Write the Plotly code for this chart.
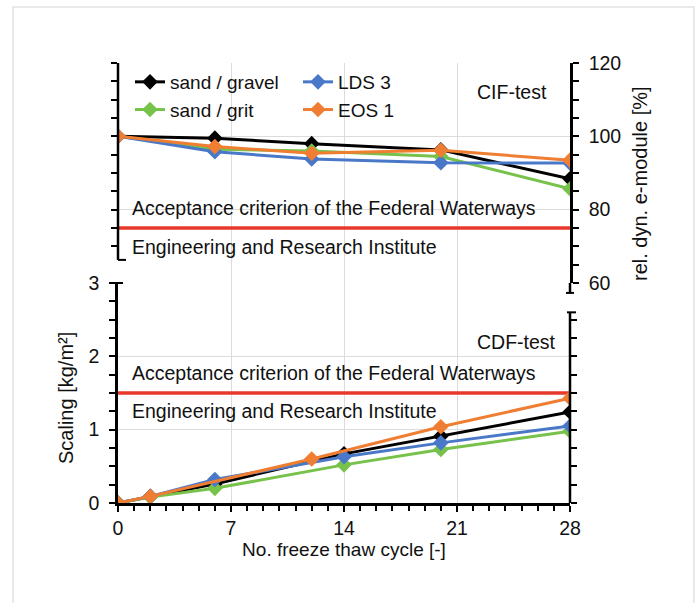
import plotly.graph_objects as go

# CIF test: relative dynamic e-modulus [%]
cif_cycles = [0, 6, 12, 20, 28]
cif_sand_gravel = [100, 99.5, 98.0, 96.3, 88.4]
cif_sand_grit = [100, 96.5, 96.0, 94.5, 85.7]
cif_lds3 = [100, 95.8, 93.8, 92.8, 92.7]
cif_eos1 = [100, 97.2, 95.4, 96.2, 93.5]

# CDF test: scaling [kg/m²]
cdf_cycles = [0, 2, 6, 14, 20, 28]
cdf_sand_gravel = [0, 0.09, 0.26, 0.67, 0.91, 1.24]
cdf_sand_grit = [0, 0.08, 0.20, 0.52, 0.73, 0.98]
cdf_lds3 = [0, 0.09, 0.32, 0.63, 0.82, 1.05]
cdf_eos1_cycles = [0, 2, 12, 20, 28]
cdf_eos1 = [0, 0.09, 0.60, 1.04, 1.43]

# acceptance criteria of the Federal Waterways Engineering and Research Institute
cif_limit = 75
cdf_limit = 1.5
limit_span = [0, 28]

names = ["sand / gravel", "sand / grit", "LDS 3", "EOS 1"]
colors = ["#000000", "#77c24a", "#4a78c8", "#ef7d32"]
legend_ids = ["legend", "legend", "legend2", "legend2"]

cif_series = [cif_sand_gravel, cif_sand_grit, cif_lds3, cif_eos1]
cdf_x = [cdf_cycles, cdf_cycles, cdf_cycles, cdf_eos1_cycles]
cdf_series = [cdf_sand_gravel, cdf_sand_grit, cdf_lds3, cdf_eos1]

CIF_RANGE = [60, 120]
CDF_RANGE = [0, 3]

FONT = "Arial, Liberation Sans, sans-serif"
FS = 19
TXT = "#111111"

W, H = 696, 603
L, R, T, B = 118, 126, 63, 100
PW, PH = W - L - R, H - T - B


def px(xp):
    return (xp - L) / PW


def py(yp):
    return (H - B - yp) / PH


def cif_dom(v):
    return (v - CIF_RANGE[0]) / (CIF_RANGE[1] - CIF_RANGE[0])


def cdf_dom(v):
    return (v - CDF_RANGE[0]) / (CDF_RANGE[1] - CDF_RANGE[0])


fig = go.Figure()

# red criterion lines
fig.add_trace(go.Scatter(x=limit_span, y=[cif_limit, cif_limit], mode="lines",
                         line=dict(color="#e8382b", width=3.5), xaxis="x", yaxis="y2",
                         showlegend=False, hoverinfo="skip"))
fig.add_trace(go.Scatter(x=limit_span, y=[cdf_limit, cdf_limit], mode="lines",
                         line=dict(color="#e8382b", width=3.5), xaxis="x", yaxis="y",
                         showlegend=False, hoverinfo="skip"))

for name, col, lg, ys in zip(names, colors, legend_ids, cif_series):
    fig.add_trace(go.Scatter(
        x=cif_cycles, y=ys, name=name, mode="lines+markers",
        line=dict(color=col, width=3),
        marker=dict(symbol="diamond", size=12, color=col),
        xaxis="x", yaxis="y2", legend=lg,
    ))

for name, col, xs, ys in zip(names, colors, cdf_x, cdf_series):
    fig.add_trace(go.Scatter(
        x=xs, y=ys, name=name, mode="lines+markers",
        line=dict(color=col, width=3),
        marker=dict(symbol="diamond", size=12, color=col),
        xaxis="x", yaxis="y", showlegend=False,
    ))

# empty traces so the secondary tick axes are drawn
fig.add_trace(go.Scatter(x=[], y=[], xaxis="x", yaxis="y3", showlegend=False))
fig.add_trace(go.Scatter(x=[], y=[], xaxis="x", yaxis="y4", showlegend=False))

tick_common = dict(ticks="outside", ticklen=6, tickwidth=2, tickcolor="black",
                   tickfont=dict(family=FONT, size=19.5, color=TXT))
grid = dict(showgrid=True, gridcolor="#dcdcdc", gridwidth=1, zeroline=False)

fig.update_layout(
    width=W, height=H,
    margin=dict(l=L, r=R, t=T, b=B),
    paper_bgcolor="white", plot_bgcolor="white",
    font=dict(family=FONT, size=FS, color=TXT),
    xaxis=dict(range=[0, 28], domain=[0, 1], anchor="y",
               tickvals=[0, 7, 14, 21, 28], showline=True, linewidth=2.5,
               linecolor="black",
               minor=dict(dtick=1, tick0=0, ticks="outside", ticklen=5,
                          tickwidth=1.5, tickcolor="black", showgrid=False),
               title=dict(text="No. freeze thaw cycle [-]", standoff=4,
                          font=dict(family=FONT, size=FS, color=TXT)),
               **tick_common, **grid),
    yaxis=dict(domain=[0, 0.5], range=CDF_RANGE, anchor="x", side="left",
               tickvals=[0, 1, 2, 3], showline=True, linewidth=2.5, linecolor="black",
               ticklabelstandoff=6,
               minor=dict(dtick=0.25, tick0=0, ticks="outside", ticklen=6,
                          tickwidth=1.5, tickcolor="black", showgrid=False),
               **tick_common, **grid),
    yaxis2=dict(domain=[0.5, 1], range=CIF_RANGE, anchor="x", side="right",
                tickvals=[60, 80, 100, 120], showline=True, linewidth=2.5,
                linecolor="black", ticklabelstandoff=6,
                minor=dict(dtick=5, tick0=60, ticks="outside", ticklen=6,
                           tickwidth=1.5, tickcolor="black", showgrid=False),
                **tick_common, **grid),
    yaxis3=dict(overlaying="y2", anchor="x", side="left", range=CIF_RANGE,
                tickvals=[70, 75, 80, 85, 90, 95, 100, 105, 110, 115, 120],
                ticks="outside", ticklen=6, tickwidth=1.5, tickcolor="black",
                showticklabels=False, showgrid=False, showline=False, zeroline=False),
    yaxis4=dict(overlaying="y", anchor="x", side="right", range=CDF_RANGE,
                tickvals=[0, 0.25, 0.5, 0.75, 1, 1.25, 1.5, 1.75, 2, 2.25, 2.5],
                ticks="outside", ticklen=6, tickwidth=1.5, tickcolor="black",
                showticklabels=False, showgrid=False, showline=False, zeroline=False),
    legend=dict(x=px(130), y=py(63), xanchor="left", yanchor="top",
                bgcolor="rgba(0,0,0,0)", font=dict(family=FONT, size=FS, color=TXT),
                tracegroupgap=0, itemwidth=30),
    legend2=dict(x=px(298), y=py(63), xanchor="left", yanchor="top",
                 bgcolor="rgba(0,0,0,0)", font=dict(family=FONT, size=FS, color=TXT),
                 tracegroupgap=0, itemwidth=30),
    showlegend=True,
)

ax_line = dict(color="black", width=2.5)
cap_line = dict(color="black", width=2)
shapes = [
    # outer frame
    dict(type="rect", xref="paper", yref="paper", x0=px(13), x1=px(694),
         y0=py(620), y1=py(7), line=dict(color="#e2e2e2", width=1.5),
         fillcolor="rgba(0,0,0,0)", layer="below"),
    # broken left axis of the CIF panel
    dict(type="line", xref="x domain", yref="y2 domain", x0=0, x1=0,
         y0=cif_dom(66.3), y1=cif_dom(120), line=ax_line),
    dict(type="line", xref="x domain", yref="y2 domain", x0=0, x1=px(126),
         y0=cif_dom(66.3), y1=cif_dom(66.3), line=cap_line),
    # lower end of the CIF right axis
    dict(type="line", xref="x domain", yref="y2 domain", x0=1, x1=1,
         y0=cif_dom(57.3), y1=cif_dom(60), line=ax_line),
    dict(type="line", xref="x domain", yref="y2 domain", x0=px(566), x1=px(574),
         y0=cif_dom(57.3), y1=cif_dom(57.3), line=cap_line),
    # broken right axis of the CDF panel
    dict(type="line", xref="x domain", yref="y domain", x0=1, x1=1,
         y0=cdf_dom(0), y1=cdf_dom(2.6), line=ax_line),
    dict(type="line", xref="x domain", yref="y domain", x0=px(567), x1=px(576),
         y0=cdf_dom(2.6), y1=cdf_dom(2.6), line=cap_line),
    dict(type="line", xref="x domain", yref="y domain", x0=px(112), x1=px(123),
         y0=cdf_dom(3), y1=cdf_dom(3), line=cap_line),
]
fig.update_layout(shapes=shapes)


def note(text, xp, yp, xanchor="left", angle=0, size=19.5):
    fig.add_annotation(text=text, xref="paper", yref="paper", x=px(xp), y=py(yp),
                       xanchor=xanchor, yanchor="middle", showarrow=False,
                       textangle=angle, font=dict(family=FONT, size=size, color=TXT))


note("CIF-test", 475, 92)
note("CDF-test", 475, 342)
note("Acceptance criterion of the Federal Waterways", 130, 208)
note("Engineering and Research Institute", 130, 247)
note("Acceptance criterion of the Federal Waterways", 130, 373)
note("Engineering and Research Institute", 130, 411)
note("rel. dyn. e-module [%]", 640, 184, xanchor="center", angle=-90, size=20)
note("Scaling [kg/m²]", 66, 398, xanchor="center", angle=-90, size=20)

fig.write_html("out.html")
